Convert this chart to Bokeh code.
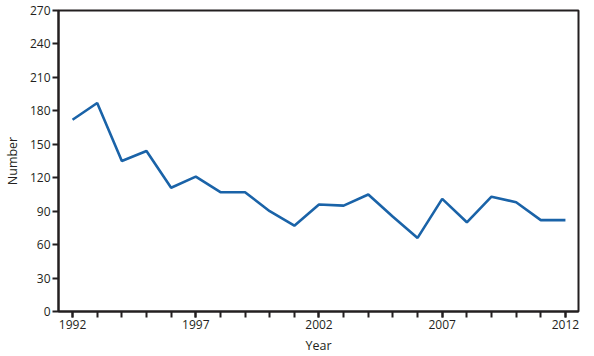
from bokeh.plotting import figure
from bokeh.models import FixedTicker, Range1d
from bokeh.embed import file_html
from bokeh.resources import INLINE

years = list(range(1992, 2013))
counts = [172, 187, 135, 144, 111, 121, 107, 107, 90, 77, 96, 95, 105, 85, 66, 101, 80, 103, 98, 82, 82]
x_labels = [1992, 1997, 2002, 2007, 2012]
y_ticks = [0, 30, 60, 90, 120, 150, 180, 210, 240, 270]

FONT = "Open Sans"

p = figure(width=594, height=356, output_backend="svg", toolbar_location=None,
           x_range=Range1d(1991.43, 2012.53), y_range=Range1d(0, 270),
           min_border_left=57, min_border_right=16, min_border_top=10, min_border_bottom=44)

p.line(years, counts, line_color="#1a63a8", line_width=2.6)

p.grid.visible = False
p.outline_line_color = "#231f20"
p.outline_line_width = 2
p.background_fill_color = "white"
p.border_fill_color = "white"

for ax in (p.xaxis[0], p.yaxis[0]):
    ax.axis_line_color = "#231f20"
    ax.axis_line_width = 2
    ax.major_tick_line_color = "#231f20"
    ax.major_tick_line_width = 2
    ax.minor_tick_line_color = "#231f20"
    ax.minor_tick_line_width = 2
    ax.major_tick_in = 0
    ax.major_tick_out = 6
    ax.minor_tick_in = 0
    ax.minor_tick_out = 6
    ax.major_label_text_font = FONT
    ax.major_label_text_font_size = "12px"
    ax.major_label_text_color = "#231f20"
    ax.axis_label_text_font = FONT
    ax.axis_label_text_font_size = "12.5px"
    ax.axis_label_text_font_style = "normal"
    ax.axis_label_text_color = "#231f20"

p.xaxis[0].ticker = FixedTicker(ticks=x_labels, minor_ticks=years)
p.yaxis[0].ticker = FixedTicker(ticks=y_ticks, minor_ticks=[])
p.xaxis[0].major_label_standoff = 2
p.yaxis[0].major_label_standoff = 2
p.xaxis.axis_label = "Year"
p.yaxis.axis_label = "Number"
p.xaxis[0].axis_label_standoff = 5
p.yaxis[0].axis_label_standoff = 6

open("out.html", "w").write(file_html(p, INLINE))
